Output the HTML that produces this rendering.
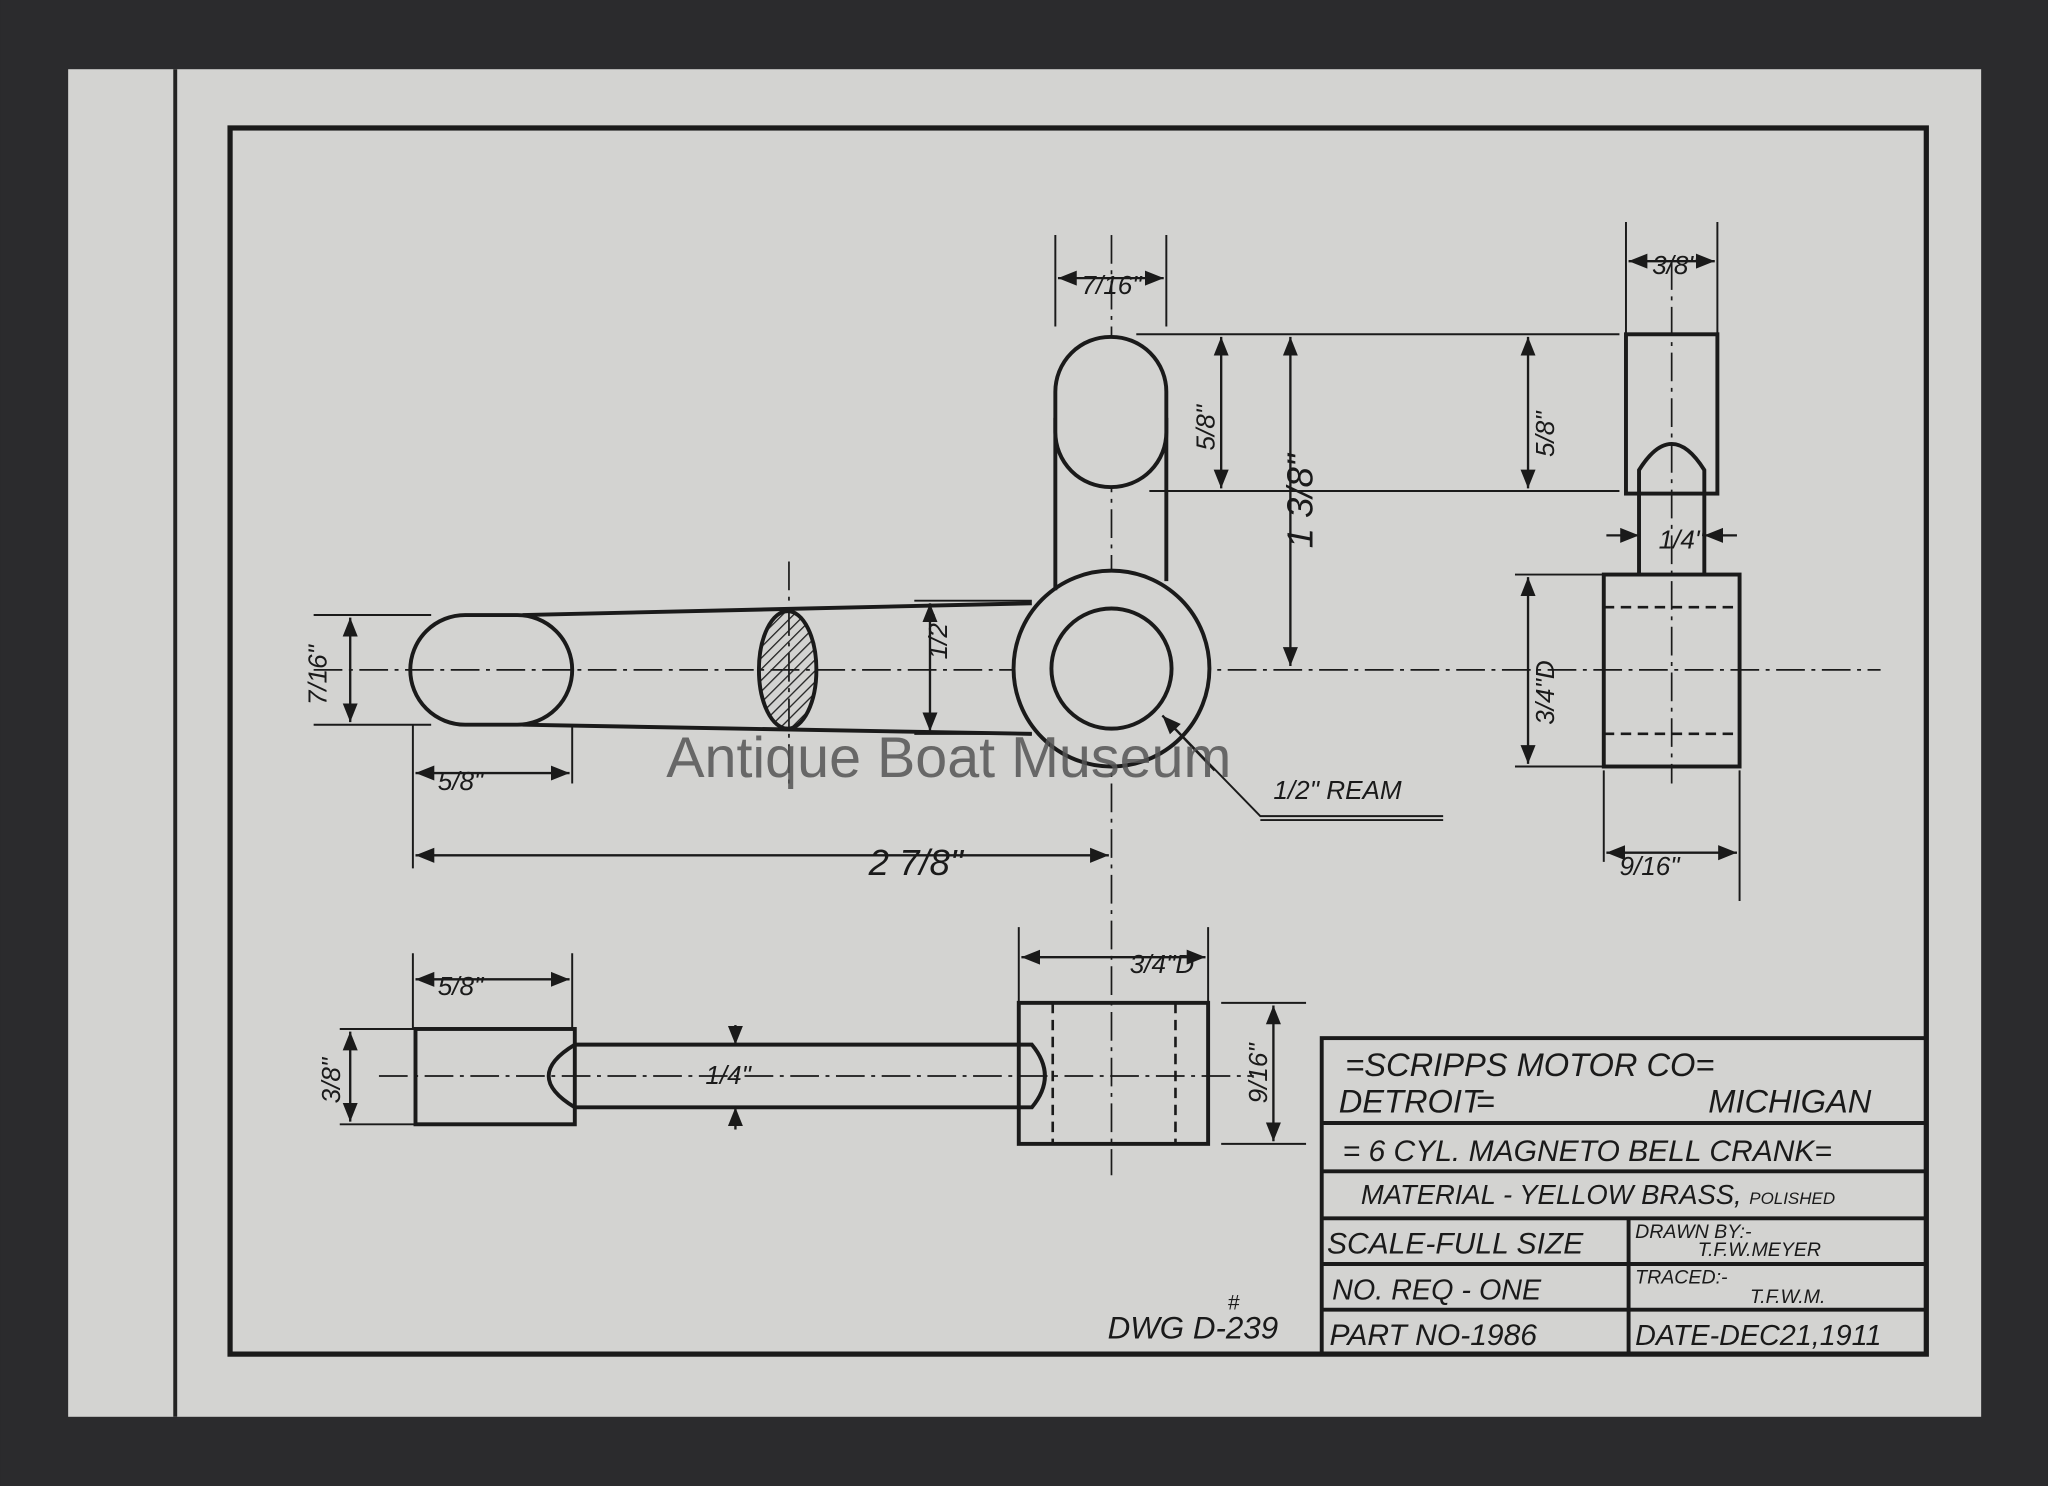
<!DOCTYPE html>
<html><head><meta charset="utf-8"><style>
html,body{margin:0;padding:0;background:#2b2b2d;}
svg{display:block}
text{font-family:"Liberation Sans",sans-serif;font-style:italic;fill:#1a1a1a}
</style></head><body>
<svg width="2048" height="1486" viewBox="0 0 1568 1138" xmlns="http://www.w3.org/2000/svg">
<defs>
<marker id="a" viewBox="0 0 10 10" refX="10" refY="5" markerWidth="8" markerHeight="8" orient="auto-start-reverse"><path d="M0,1 L10,5 L0,9 z" fill="#1a1a1a"/></marker>
<pattern id="h" width="6" height="6" patternUnits="userSpaceOnUse" patternTransform="rotate(45)"><line x1="0" y1="0" x2="0" y2="6" stroke="#222" stroke-width="2"/></pattern>
</defs>
<rect width="1568" height="1138" fill="#2b2b2d"/>
<rect x="52" y="53" width="1465" height="1032" fill="#d3d3d1"/>
<line x1="134" y1="53" x2="134" y2="1085" stroke="#222" stroke-width="3"/>
<rect x="176" y="98" width="1299" height="939" fill="none" stroke="#1a1a1a" stroke-width="4"/>
<g stroke="#1a1a1a" fill="none" stroke-width="1.3" stroke-dasharray="22,5,3,5">
<line x1="240" y1="513" x2="1440" y2="513"/>
<line x1="851" y1="180" x2="851" y2="900"/>
<line x1="1280" y1="200" x2="1280" y2="600"/>
<line x1="290" y1="824" x2="960" y2="824"/>
<line x1="604" y1="430" x2="604" y2="600"/>
</g>
<g stroke="#1a1a1a" fill="none" stroke-width="3">
<rect x="314" y="471" width="124" height="84" rx="42"/>
<line x1="400" y1="471" x2="790" y2="462"/>
<line x1="400" y1="555" x2="790" y2="562"/>
<ellipse cx="603" cy="513" rx="22" ry="45" fill="url(#h)"/>
<circle cx="851" cy="512" r="75" fill="#d3d3d1"/>
<circle cx="851" cy="512" r="46"/>
<line x1="808" y1="320" x2="808" y2="452"/>
<line x1="893" y1="320" x2="893" y2="445"/>
<rect x="808" y="258" width="85" height="115" rx="42" fill="#d3d3d1"/>
<rect x="1245" y="256" width="70" height="122"/>
<path d="M1255,440 L1255,360 Q1280,320 1305,360 L1305,440"/>
<rect x="1228" y="440" width="104" height="147"/>
<rect x="318" y="788" width="122" height="73"/>
<path d="M440,800 L790,800 Q810,824 790,848 L440,848 Q400,824 440,800"/>
<rect x="780" y="768" width="145" height="108"/>
</g>
<g stroke="#1a1a1a" stroke-width="2" stroke-dasharray="8,5" fill="none">
<line x1="1228" y1="465" x2="1332" y2="465"/><line x1="1228" y1="562" x2="1332" y2="562"/>
<line x1="806" y1="768" x2="806" y2="876"/><line x1="900" y1="768" x2="900" y2="876"/>
</g>
<g stroke="#1a1a1a" stroke-width="1.5" fill="none">
<line x1="808" y1="180" x2="808" y2="250"/><line x1="893" y1="180" x2="893" y2="250"/>
<line x1="870" y1="256" x2="1240" y2="256"/><line x1="880" y1="376" x2="1240" y2="376"/>
<line x1="1160" y1="440" x2="1228" y2="440"/><line x1="1160" y1="587" x2="1228" y2="587"/>
<line x1="316" y1="555" x2="316" y2="665"/><line x1="438" y1="555" x2="438" y2="600"/>
<line x1="316" y1="730" x2="316" y2="788"/><line x1="438" y1="730" x2="438" y2="788"/>
<line x1="780" y1="710" x2="780" y2="768"/><line x1="925" y1="710" x2="925" y2="768"/>
<line x1="935" y1="768" x2="1000" y2="768"/><line x1="935" y1="876" x2="1000" y2="876"/>
<line x1="1245" y1="170" x2="1245" y2="256"/><line x1="1315" y1="170" x2="1315" y2="256"/>
<line x1="1228" y1="590" x2="1228" y2="660"/><line x1="1332" y1="590" x2="1332" y2="690"/>
<line x1="240" y1="471" x2="330" y2="471"/><line x1="240" y1="555" x2="330" y2="555"/>
<line x1="700" y1="460" x2="790" y2="460"/><line x1="700" y1="562" x2="790" y2="562"/>
<line x1="260" y1="788" x2="318" y2="788"/><line x1="260" y1="861" x2="318" y2="861"/>
<path d="M890,548 L965,625 L1105,625 M965,628 L1105,628"/>
</g>
<g stroke="#1a1a1a" stroke-width="1.8" fill="none" marker-start="url(#a)" marker-end="url(#a)">
<line x1="810" y1="213" x2="891" y2="213"/>
<line x1="1247" y1="200" x2="1313" y2="200"/>
<line x1="935" y1="258" x2="935" y2="374"/>
<line x1="988" y1="258" x2="988" y2="510"/>
<line x1="1170" y1="258" x2="1170" y2="374"/>
<line x1="1170" y1="442" x2="1170" y2="585"/>
<line x1="268" y1="473" x2="268" y2="553"/>
<line x1="712" y1="462" x2="712" y2="560"/>
<line x1="318" y1="592" x2="436" y2="592"/>
<line x1="318" y1="655" x2="849" y2="655"/>
<line x1="318" y1="750" x2="436" y2="750"/>
<line x1="782" y1="733" x2="923" y2="733"/>
<line x1="268" y1="790" x2="268" y2="859"/>
<line x1="975" y1="770" x2="975" y2="874"/>
<line x1="1230" y1="653" x2="1330" y2="653"/>
</g>
<g stroke="#1a1a1a" stroke-width="1.8" fill="none" marker-end="url(#a)">
<line x1="563" y1="785" x2="563" y2="800"/><line x1="563" y1="865" x2="563" y2="848"/>
<line x1="1230" y1="410" x2="1255" y2="410"/><line x1="1330" y1="410" x2="1305" y2="410"/>
<line x1="930" y1="590" x2="890" y2="548"/>
</g>
<g font-size="20">
<text x="828" y="225">7/16"</text><text x="1265" y="210">3/8"</text>
<text x="335" y="605">5/8"</text><text x="335" y="762">5/8"</text>
<text x="665" y="670" font-size="28">2 7/8"</text>
<text x="865" y="745">3/4"D</text>
<text x="1240" y="670">9/16"</text>
<text x="975" y="612">1/2" REAM</text>
<text transform="translate(250,540) rotate(-90)">7/16"</text>
<text transform="translate(725,505) rotate(-90)">1/2"</text>
<text transform="translate(930,345) rotate(-90)">5/8"</text>
<text transform="translate(1005,420) rotate(-90)" font-size="28">1 3/8"</text>
<text transform="translate(1190,350) rotate(-90)">5/8"</text>
<text transform="translate(1190,555) rotate(-90)">3/4"D</text>
<text transform="translate(260,845) rotate(-90)">3/8"</text>
<text transform="translate(970,845) rotate(-90)">9/16"</text>
<text x="1270" y="420">1/4"</text><text x="540" y="830">1/4"</text>
</g>
<text x="510" y="595" font-size="44" style="font-style:normal;fill:#555;opacity:.85">Antique Boat Museum</text>
<g stroke="#1a1a1a" stroke-width="3" fill="none">
<rect x="1012" y="795" width="463" height="242"/>
<line x1="1012" y1="860" x2="1475" y2="860"/><line x1="1012" y1="897" x2="1475" y2="897"/>
<line x1="1012" y1="933" x2="1475" y2="933"/><line x1="1012" y1="968" x2="1475" y2="968"/>
<line x1="1012" y1="1003" x2="1475" y2="1003"/><line x1="1247" y1="933" x2="1247" y2="1037"/>
</g>
<g font-size="25">
<text x="1030" y="824">=SCRIPPS MOTOR CO=</text>
<text x="1025" y="852">DETROIT</text><text x="1130" y="852">=</text><text x="1308" y="852">MICHIGAN</text>
<text x="1028" y="889" font-size="23">= 6 CYL. MAGNETO BELL CRANK=</text>
<text x="1042" y="922" font-size="21">MATERIAL - YELLOW BRASS, <tspan font-size="13">POLISHED</tspan></text>
<text x="1016" y="960" font-size="23">SCALE-FULL SIZE</text>
<text x="1020" y="995" font-size="22">NO. REQ - ONE</text>
<text x="1018" y="1030" font-size="23">PART NO-1986</text>
<text x="1252" y="1030" font-size="22">DATE-DEC21,1911</text>
<text x="1252" y="948" font-size="15">DRAWN BY:-</text><text x="1300" y="962" font-size="15">T.F.W.MEYER</text>
<text x="1252" y="983" font-size="15">TRACED:-</text><text x="1340" y="998" font-size="15">T.F.W.M.</text>
<text x="848" y="1025" font-size="24">DWG D-239</text><text x="940" y="1003" font-size="16">#</text>
</g>
</svg>
</body></html>
